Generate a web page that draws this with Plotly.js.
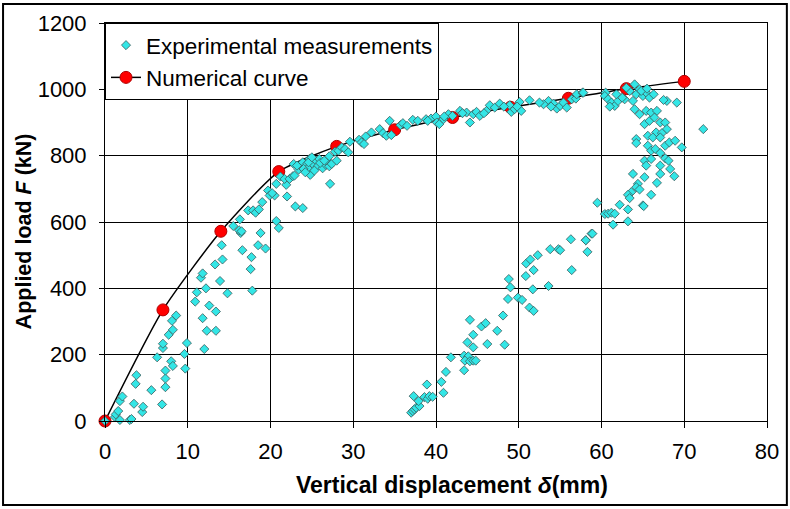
<!DOCTYPE html>
<html>
<head>
<meta charset="utf-8">
<script src="https://cdn.plot.ly/plotly-3.0.1.min.js"></script>
<style>
html,body{margin:0;padding:0;background:#fff;}
#chart{width:790px;height:509px;}
</style>
</head>
<body>
<div id="chart"></div>
<script>
// Numerical curve
const numX = [0, 7, 14, 21, 28, 35, 42, 49, 56, 63, 70];
const numY = [0, 335, 572, 752, 828, 878, 915, 946, 973, 1002, 1024];

// Experimental measurements
const expX = [
0,1.2,1.8,1.3,1.6,3.0,3.2,1.8,2.1,3.7,3.8,3.5,4.5,4.6,5.6,6.9,7.3,7.3,7.3,6.3,
8.0,8.2,7.0,7.0,7.7,8.2,8.1,8.6,9.6,9.7,9.9,12.0,11.8,12.3,13.4,13.4,12.6,10.9,11.1,12.2,
11.6,11.8,13.9,14.8,17.8,13.3,14.2,14.1,16.6,17.7,17.6,18.5,19.4,18.8,16.4,16.2,16.5,15.5,16.3,20.7,
21.0,17.3,17.9,18.2,18.6,19.0,19.7,19.9,20.5,20.2,22.0,23.0,23.9,20.7,21.2,21.9,21.7,22.3,22.7,22.9,
22.8,23.4,23.7,23.9,24.3,24.7,24.5,24.8,25.1,25.5,25.7,25.9,26.3,26.7,27.0,27.1,27.4,28.0,27.1,27.2,
27.8,28.2,28.6,29.0,29.4,29.6,30.7,31.0,31.3,31.5,32.2,33.2,33.6,34.0,34.4,34.6,35.7,36.0,37.2,37.8,
38.8,39.4,40.0,40.1,24.0,24.6,25.3,26.0,23.2,25.0,26.5,24.2,
40.4,40.9,41.5,42.9,43.7,44.1,44.5,44.9,45.3,46.1,46.5,47.1,47.7,48.9,49.1,49.5,50.1,50.3,51.3,53.6,
54.2,54.6,55.0,55.4,56.4,56.9,57.0,57.7,42.0,43.2,45.8,48.2,49.8,53.0,53.9,55.8,52.5,41.0,39.0,36.5,
57.8,60.5,60.4,60.8,61.2,61.6,61.0,62.0,62.8,63.4,64.0,64.2,64.6,65.0,65.4,65.8,66.3,63.8,64.0,64.6,
65.4,66.0,66.7,67.9,67.5,69.1,65.2,65.8,66.4,67.1,67.7,67.9,66.6,67.3,65.6,66.2,67.1,64.2,64.2,65.6,
66.0,66.5,67.1,67.7,68.2,68.9,69.7,67.7,68.1,65.2,66.0,65.4,67.1,68.3,68.8,67.1,63.8,65.2,66.7,64.4,
64.2,64.6,63.6,63.2,63.4,66.0,62.2,65.0,63.2,59.5,60.4,60.8,61.2,61.6,63.2,61.4,58.8,58.1,72.3,
63.0,64.8,65.5,62.5,61.8,
37.0,37.2,37.4,37.6,38.0,37.9,37.3,38.6,39.0,39.2,39.6,38.9,40.9,40.65,41.2,41.8,43.4,43.9,43.5,44.1,
44.5,44.8,43.4,43.8,44.5,44.5,44.1,45.5,46.0,46.2,47.4,48.3,48.1,48.7,48.8,49.0,49.9,50.4,51.3,51.8,
50.85,51.7,51.8,50.9,51.4,52.3,53.6,53.8,54.8,55.0,56.3,56.4,58.1,58.3,58.9,65.1
];
const expY = [
0,12,3,20,30,3,6,60,74,112,138,52,27,43,93,50,102,128,152,192,
180,166,220,233,260,275,302,318,202,158,235,217,310,272,272,330,348,360,388,400,
432,445,422,385,393,472,487,530,515,494,458,530,520,567,567,575,572,588,608,603,
582,635,635,628,638,660,695,680,680,687,677,647,642,715,737,712,730,730,738,740,
775,758,768,780,772,790,762,742,775,785,768,790,762,772,780,768,775,785,798,715,
812,815,825,820,810,842,848,840,835,858,870,880,868,860,905,862,892,898,908,905,
910,912,918,900,760,780,755,778,770,795,785,750,
895,910,925,935,930,900,925,932,920,935,952,945,957,952,932,940,962,935,967,965,
957,942,950,960,970,972,985,990,920,928,928,948,948,955,948,945,960,918,905,890,
990,990,980,970,960,950,948,965,970,995,1015,985,1000,980,990,975,985,965,940,925,
935,930,935,965,968,960,895,905,915,900,900,880,870,868,860,855,855,850,838,830,
815,820,808,830,840,845,825,792,785,785,790,770,770,760,738,745,745,735,718,715,
705,698,690,682,672,682,652,650,638,658,624,625,628,625,602,592,565,545,880,
1005,995,1002,975,985,
25,30,35,40,45,60,75,72,67,75,73,110,85,118,148,192,197,195,182,180,
182,182,153,237,222,260,305,285,295,232,272,230,318,368,428,403,372,365,342,332,
437,397,455,475,487,500,407,518,518,515,548,455,545,510,565,648
];

const xTitle = '<b>Vertical displacement <i>δ</i>(mm)</b>';
const yTitle = '<b>Applied load <i>F</i> (kN)</b>';

const FONT = '"Liberation Sans", Arial, sans-serif';

const traces = [
  {
    x: numX, y: numY, type: 'scatter', mode: 'lines+markers',
    name: 'Numerical curve', legendrank: 2, legendgroup: 'num',
    line: {color: '#000000', width: 1.5, shape: 'spline', smoothing: 0.6},
    marker: {symbol: 'circle', size: 12, color: '#FF0000', line: {color: '#B00000', width: 1}},
    cliponaxis: false
  },
  {
    x: expX, y: expY, type: 'scatter', mode: 'markers',
    name: 'Experimental measurements', legendrank: 1, legendgroup: 'exp',
    marker: {symbol: 'diamond', size: 7, color: '#33E6E6', line: {color: '#3A5A5A', width: 0.8}},
    cliponaxis: false
  }
];

const layout = {
  width: 790, height: 509,
  margin: {l: 105, r: 23, t: 23, b: 88},
  paper_bgcolor: '#ffffff', plot_bgcolor: '#ffffff',
  font: {family: FONT, size: 22, color: '#000'},
  showlegend: true,
  legend: {
    x: 0, y: 1, xanchor: 'left', yanchor: 'top',
    bgcolor: '#ffffff', bordercolor: '#000000', borderwidth: 1,
    font: {family: FONT, size: 22.5, color: '#000'},
    traceorder: 'grouped', tracegroupgap: 0,
    itemsizing: 'trace'
  },
  xaxis: {
    range: [0, 80], tickvals: [0,10,20,30,40,50,60,70,80], ticktext: ['0','10','20','30','40','50','60','70','80'],
    showgrid: true, gridcolor: '#000000', gridwidth: 1,
    showline: true, linecolor: '#000000', linewidth: 1, mirror: true,
    zeroline: false, ticks: 'outside', ticklen: 6, tickcolor: '#000', tickwidth: 1,
    ticklabelstandoff: 5,
    tickfont: {family: FONT, size: 22, color: '#000'},
    automargin: false, fixedrange: true
  },
  yaxis: {
    range: [0, 1200], tickvals: [0,200,400,600,800,1000,1200],
    showgrid: true, gridcolor: '#000000', gridwidth: 1,
    showline: true, linecolor: '#000000', linewidth: 1, mirror: true,
    zeroline: false, ticks: 'outside', ticklen: 5, tickcolor: '#000', tickwidth: 1,
    ticklabelstandoff: 8,
    tickfont: {family: FONT, size: 22, color: '#000'},
    automargin: false, fixedrange: true
  },
  annotations: [
    {text: xTitle, xref: 'paper', yref: 'paper', x: 0.524, y: -0.161, xanchor: 'center', yanchor: 'middle',
     showarrow: false, font: {family: FONT, size: 23, color: '#000'}},
    {text: yTitle, xref: 'paper', yref: 'paper', x: -0.122, y: 0.477, xanchor: 'center', yanchor: 'middle',
     textangle: -90, showarrow: false, font: {family: FONT, size: 21.5, color: '#000'}}
  ],
  shapes: [
    {type: 'rect', xref: 'paper', yref: 'paper', x0: -0.154, x1: 1.030, y0: -0.211, y1: 1.048,
     line: {color: '#000000', width: 2}, fillcolor: 'rgba(0,0,0,0)', layer: 'below'}
  ]
};

Plotly.newPlot('chart', traces, layout, {staticPlot: true, displayModeBar: false});
</script>
</body>
</html>
